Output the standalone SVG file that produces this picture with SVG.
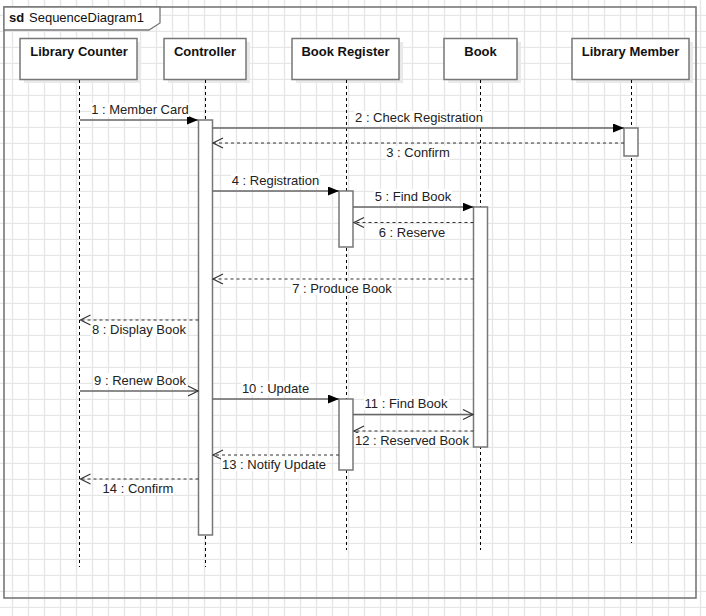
<svg xmlns="http://www.w3.org/2000/svg" width="706" height="616" viewBox="0 0 706 616">
  <defs>
    <pattern id="grid" x="0" y="0" width="16" height="16" patternUnits="userSpaceOnUse">
      <rect width="16" height="16" fill="#ffffff"/>
      <line x1="12.5" y1="0" x2="12.5" y2="16" stroke="#e6e6e6" stroke-width="1.3"/>
      <line x1="0" y1="15.5" x2="16" y2="15.5" stroke="#e6e6e6" stroke-width="1.3"/>
    </pattern>
    <marker id="filled" viewBox="0 0 11 9" refX="11" refY="4.5" markerWidth="11" markerHeight="9" markerUnits="userSpaceOnUse" orient="auto">
      <path d="M0,0 L11,4.5 L0,9 z" fill="#000"/>
    </marker>
    <marker id="open" viewBox="-1 -1 12 12" refX="10" refY="5" markerWidth="12" markerHeight="12" markerUnits="userSpaceOnUse" orient="auto" overflow="visible">
      <path d="M0,0 L10,5 L0,10" fill="none" stroke="#333" stroke-width="1.2"/>
    </marker>
  </defs>
  <style>
    .head { fill: #ffffff; stroke: #777; stroke-width: 1.5; }
    .shadow { fill: #e9e9e9; }
    .headtxt { font-family: "Liberation Sans", Arial, sans-serif; font-size: 13px; font-weight: bold; fill: #111; text-anchor: middle; }
    .life { stroke: #000; stroke-width: 1; stroke-dasharray: 3,3; fill: none; }
    .act { fill: #ffffff; stroke: #777; stroke-width: 1.5; }
    .call { stroke: #666; stroke-width: 1.5; fill: none; }
    .reply { stroke: #333; stroke-width: 1.2; stroke-dasharray: 3,3; fill: none; }
    .lbl { font-family: "Liberation Sans", Arial, sans-serif; font-size: 13px; fill: #222; text-anchor: middle; }
    .lblbg { fill: #ffffff; }
  </style>

  <!-- background grid -->
  <rect x="0" y="0" width="706" height="616" fill="url(#grid)"/>

  <!-- sequence frame -->
  <g id="frame">
    <rect x="4" y="7" width="692" height="591" fill="none" stroke="#777" stroke-width="1.6"/>
    <path d="M4,7 L160,7 L160,23 L149,30 L4,30 z" fill="#ffffff" stroke="#777" stroke-width="1.3"/>
    <text x="9" y="21.5" font-family="Liberation Sans, Arial, sans-serif" font-size="13" fill="#111"><tspan font-weight="bold">sd</tspan><tspan x="29">SequenceDiagram1</tspan></text>
  </g>

  <!-- lifelines -->
  <g id="lifeline-library-counter">
    <rect class="shadow" x="24" y="42" width="117" height="41"/>
    <rect class="head" x="20" y="38.5" width="117" height="41"/>
    <text class="headtxt" x="79" y="55.5">Library Counter</text>
    <line class="life" x1="79.5" y1="80" x2="79.5" y2="567"/>
  </g>
  <g id="lifeline-controller">
    <rect class="shadow" x="168" y="42" width="82" height="41"/>
    <rect class="head" x="164" y="38.5" width="82" height="41"/>
    <text class="headtxt" x="205" y="55.5">Controller</text>
    <line class="life" x1="205.5" y1="80" x2="205.5" y2="567"/>
  </g>
  <g id="lifeline-book-register">
    <rect class="shadow" x="296" y="42" width="107" height="41"/>
    <rect class="head" x="292" y="38.5" width="107" height="41"/>
    <text class="headtxt" x="345.5" y="55.5">Book Register</text>
    <line class="life" x1="346.5" y1="80" x2="346.5" y2="550"/>
  </g>
  <g id="lifeline-book">
    <rect class="shadow" x="448" y="42" width="73" height="41"/>
    <rect class="head" x="444" y="38.5" width="73" height="41"/>
    <text class="headtxt" x="480.5" y="55.5">Book</text>
    <line class="life" x1="480.5" y1="80" x2="480.5" y2="550"/>
  </g>
  <g id="lifeline-library-member">
    <rect class="shadow" x="576" y="42" width="117" height="41"/>
    <rect class="head" x="572" y="38.5" width="117" height="41"/>
    <text class="headtxt" x="630.5" y="55.5">Library Member</text>
    <line class="life" x1="631.5" y1="80" x2="631.5" y2="543"/>
  </g>

  <!-- activations -->
  <g id="activations">
    <rect class="act" x="198.5" y="120" width="14" height="415"/>
    <rect class="act" x="624" y="128" width="14" height="28"/>
    <rect class="act" x="339" y="191" width="14" height="56"/>
    <rect class="act" x="473.5" y="207" width="14" height="240"/>
    <rect class="act" x="339" y="399" width="14" height="71"/>
  </g>

  <!-- messages -->
  <g id="connectors">
    <line class="call" x1="80" y1="120" x2="198" y2="120" marker-end="url(#filled)"/>
    <line class="call" x1="212.5" y1="128" x2="624" y2="128" marker-end="url(#filled)"/>
    <line class="reply" x1="624" y1="143" x2="213" y2="143" marker-end="url(#open)"/>
    <line class="call" x1="212.5" y1="191" x2="339" y2="191" marker-end="url(#filled)"/>
    <line class="call" x1="353" y1="207" x2="473.5" y2="207" marker-end="url(#filled)"/>
    <line class="reply" x1="473.5" y1="222.5" x2="354" y2="222.5" marker-end="url(#open)"/>
    <line class="reply" x1="473.5" y1="279" x2="213" y2="279" marker-end="url(#open)"/>
    <line class="reply" x1="198.5" y1="320" x2="80.5" y2="320" marker-end="url(#open)"/>
    <line class="call" x1="80" y1="391" x2="198" y2="391" marker-end="url(#open)"/>
    <line class="call" x1="212.5" y1="399" x2="339" y2="399" marker-end="url(#filled)"/>
    <line class="call" x1="353" y1="414.5" x2="473" y2="414.5" marker-end="url(#open)"/>
    <line class="reply" x1="473.5" y1="431" x2="354" y2="431" marker-end="url(#open)"/>
    <line class="reply" x1="339" y1="455" x2="213" y2="455" marker-end="url(#open)"/>
    <line class="reply" x1="198.5" y1="479" x2="80.5" y2="479" marker-end="url(#open)"/>

    <!-- message labels -->
    <rect class="lblbg" x="91" y="103" width="98" height="14"/>
    <text class="lbl" x="140" y="114">1 : Member Card</text>
    <rect class="lblbg" x="354" y="111" width="130" height="14"/>
    <text class="lbl" x="419" y="122">2 : Check Registration</text>
    <rect class="lblbg" x="386" y="146" width="64" height="14"/>
    <text class="lbl" x="418" y="157">3 : Confirm</text>
    <rect class="lblbg" x="231" y="173" width="89" height="14"/>
    <text class="lbl" x="275.5" y="184.5">4 : Registration</text>
    <rect class="lblbg" x="374" y="189" width="78" height="14"/>
    <text class="lbl" x="413" y="200.5">5 : Find Book</text>
    <rect class="lblbg" x="378" y="225" width="68" height="14"/>
    <text class="lbl" x="412" y="236.5">6 : Reserve</text>
    <rect class="lblbg" x="291" y="281" width="102" height="14"/>
    <text class="lbl" x="342" y="292.5">7 : Produce Book</text>
    <rect class="lblbg" x="91" y="322" width="96" height="14"/>
    <text class="lbl" x="139" y="333.5">8 : Display Book</text>
    <rect class="lblbg" x="93" y="373" width="94" height="14"/>
    <text class="lbl" x="140" y="384.5">9 : Renew Book</text>
    <rect class="lblbg" x="241" y="381" width="69" height="14"/>
    <text class="lbl" x="275.5" y="392.5">10 : Update</text>
    <rect class="lblbg" x="364" y="396" width="85" height="14"/>
    <text class="lbl" x="406" y="407.5">11 : Find Book</text>
    <rect class="lblbg" x="355" y="433" width="115" height="14"/>
    <text class="lbl" x="412" y="444.5">12 : Reserved Book</text>
    <rect class="lblbg" x="221" y="457" width="106" height="14"/>
    <text class="lbl" x="274" y="468.5">13 : Notify Update</text>
    <rect class="lblbg" x="102" y="481" width="72" height="14"/>
    <text class="lbl" x="138" y="492.5">14 : Confirm</text>
  </g>
</svg>
